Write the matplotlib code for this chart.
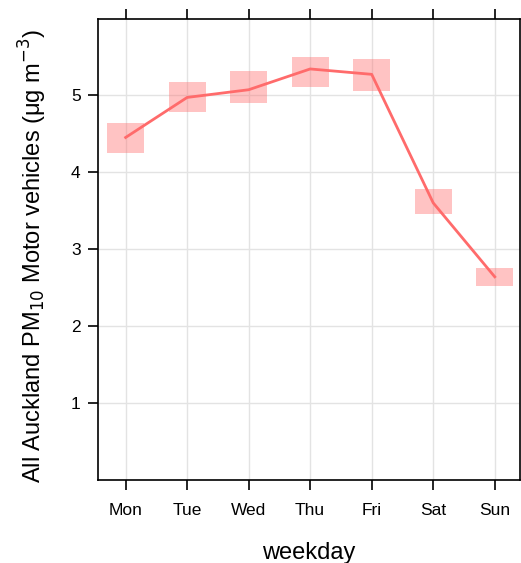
import matplotlib
matplotlib.use('Agg')
import matplotlib.pyplot as plt

plt.rcParams['font.family'] = ['Liberation Sans', 'DejaVu Sans']

days = ['Mon', 'Tue', 'Wed', 'Thu', 'Fri', 'Sat', 'Sun']
mean_pm10 = [4.45, 4.97, 5.07, 5.34, 5.27, 3.60, 2.64]
lower_ci = [4.25, 4.78, 4.90, 5.10, 5.05, 3.45, 2.52]
upper_ci = [4.64, 5.17, 5.31, 5.49, 5.47, 3.78, 2.75]

x = list(range(1, len(days) + 1))
col = '#FF6B6B'

fig = plt.figure(figsize=(5.21, 5.63), dpi=100)
ax = fig.add_axes([0.188, 0.1474, 0.81, 0.819])

ax.grid(True, color='#E3E3E3', linewidth=1.0)
ax.set_axisbelow(True)

# confidence interval boxes then the mean line
ax.bar(x, [u - l for u, l in zip(upper_ci, lower_ci)], bottom=lower_ci,
       width=0.6, color=col, alpha=0.4, linewidth=0, zorder=2)
ax.plot(x, mean_pm10, color=col, linewidth=2, zorder=3)

ax.set_xlim(0.55, 7.41)
ax.set_ylim(0, 5.99)
ax.set_xticks(x)
ax.set_xticklabels(days)
ax.set_yticks([1, 2, 3, 4, 5])

for s in ax.spines.values():
    s.set_linewidth(1.2)
    s.set_color('black')
ax.tick_params(axis='x', top=True, bottom=True, direction='out', length=7.5,
               width=1.2, labelsize=12.5, pad=9)
ax.tick_params(axis='y', left=True, right=False, direction='out', length=7.5,
               width=1.2, labelsize=12.5, pad=5)

ax.set_xlabel('weekday', fontsize=17, labelpad=17)
ax.set_ylabel(r'All Auckland PM$_{10}$ Motor vehicles ($\mathregular{\mu}$g m$^{-3}$)',
              fontsize=17)
ax.yaxis.set_label_coords(-0.115, 0.485)

fig.savefig('out.png', dpi=100)
